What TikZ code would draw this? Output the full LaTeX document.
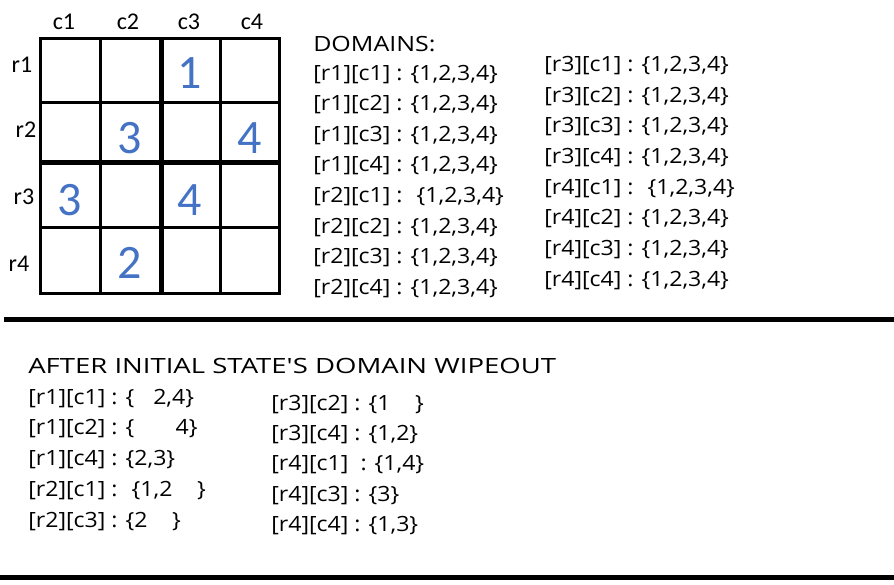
\documentclass[tikz,border=0pt]{standalone}
\usepackage{fontspec}
\setmainfont{Open Sans}[FakeStretch=1.1]
\newfontfamily\domhead{Open Sans}[FakeStretch=1.19]
\newfontfamily\wipehead{Open Sans}[FakeStretch=1.31]
\newfontfamily\gridfont{Carlito}
\definecolor{digblue}{HTML}{4472C4}
\begin{document}
\begin{tikzpicture}[x=0.75pt,y=-0.75pt,
  thin grid/.style={line width=2.25pt},
  thick grid/.style={line width=3.75pt},
  sep line/.style={line width=3.75pt},
  lbl/.style={font=\gridfont\fontsize{18}{20}\selectfont, inner sep=0pt},
  dig/.style={font=\gridfont\fontsize{36}{40}\selectfont, text=digblue, inner sep=0pt},
  dom/.style={font=\fontsize{15.75}{18}\selectfont, anchor=west, inner sep=0pt}]
\useasboundingbox (0,0) rectangle (894,585);
% grid
\draw[thin grid] (40,39) rectangle (279,293);
\draw[thin grid] (100,39) -- (100,293);
\draw[thin grid] (220,39) -- (220,293);
\draw[thin grid] (40,103) -- (279,103);
\draw[thin grid] (40,228) -- (279,228);
\draw[thick grid] (161,39) -- (161,293);
\draw[thick grid] (39,163) -- (279,163);
% labels
\node[lbl] (c1) at (64,22) {c1};
\node[lbl] (c2) at (128,22) {c2};
\node[lbl] (c3) at (189,22) {c3};
\node[lbl] (c4) at (252,22) {c4};
\node[lbl] (r1) at (22,65) {r1};
\node[lbl] (r2) at (26,130) {r2};
\node[lbl] (r3) at (24,197) {r3};
\node[lbl] (r4) at (19,264) {r4};
% digits
\node[dig] (d13) at (190,73) {1};
\node[dig] (d22) at (130,138) {3};
\node[dig] (d24) at (250,138) {4};
\node[dig] (d31) at (70,200) {3};
\node[dig] (d33) at (190,200) {4};
\node[dig] (d42) at (130,263) {2};
% domains
\node[dom, font=\domhead\fontsize{15.75}{18}\selectfont] (domt) at (313,44) {DOMAINS:};
\node[dom] (a1) at (313,75) {[r1][c1] : \{1,2,3,4\}};
\node[dom] (a2) at (313,105) {[r1][c2] : \{1,2,3,4\}};
\node[dom] (a3) at (313,136) {[r1][c3] : \{1,2,3,4\}};
\node[dom] (a4) at (313,166) {[r1][c4] : \{1,2,3,4\}};
\node[dom] (a5) at (313,197) {[r2][c1] : \ \{1,2,3,4\}};
\node[dom] (a6) at (313,228) {[r2][c2] : \{1,2,3,4\}};
\node[dom] (a7) at (313,258) {[r2][c3] : \{1,2,3,4\}};
\node[dom] (a8) at (313,289) {[r2][c4] : \{1,2,3,4\}};
\node[dom] (b1) at (544,66) {[r3][c1] : \{1,2,3,4\}};
\node[dom] (b2) at (544,97) {[r3][c2] : \{1,2,3,4\}};
\node[dom] (b3) at (544,127) {[r3][c3] : \{1,2,3,4\}};
\node[dom] (b4) at (544,158) {[r3][c4] : \{1,2,3,4\}};
\node[dom] (b5) at (544,189) {[r4][c1] : \ \{1,2,3,4\}};
\node[dom] (b6) at (544,219) {[r4][c2] : \{1,2,3,4\}};
\node[dom] (b7) at (544,250) {[r4][c3] : \{1,2,3,4\}};
\node[dom] (b8) at (544,281) {[r4][c4] : \{1,2,3,4\}};
% separators
\draw[sep line] (4,319) -- (894,319);
\draw[sep line] (0,577) -- (894,577);
% after wipeout
\node[dom, font=\wipehead\fontsize{15.75}{18}\selectfont] (wt) at (28,366) {AFTER INITIAL STATE'S DOMAIN WIPEOUT};
\node[dom] (e1) at (28,399) {[r1][c1] : \{\phantom{1,}2,4\}};
\node[dom] (e2) at (28,429) {[r1][c2] : \{\phantom{1,2,}\,4\}};
\node[dom] (e3) at (28,460) {[r1][c4] : \{2,3\}};
\node[dom] (e4) at (28,491) {[r2][c1] : \ \{1,2\phantom{,3,}\}};
\node[dom] (e5) at (28,522) {[r2][c3] : \{2\phantom{,3,}\}};
\node[dom] (f1) at (271,405) {[r3][c2] : \{1\phantom{,2,}\}};
\node[dom] (f2) at (271,435) {[r3][c4] : \{1,2\}};
\node[dom] (f3) at (271,465) {[r4][c1] \ : \{1,4\}};
\node[dom] (f4) at (271,496) {[r4][c3] : \{3\}};
\node[dom] (f5) at (271,526) {[r4][c4] : \{1,3\}};
\end{tikzpicture}
\end{document}
